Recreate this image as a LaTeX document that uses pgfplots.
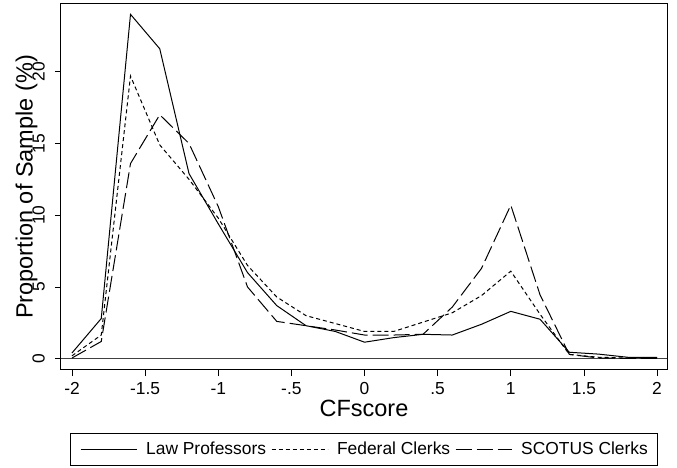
\documentclass[border=0pt]{standalone}
\usepackage{fontspec}
\setmainfont{Liberation Sans}
\usepackage{pgfplots}
\usepackage{pgfplotstable}
\pgfplotsset{compat=1.18}
\pgfplotstableread{
x     law    fed    scotus
-2.0  0.40   0.20   0.05
-1.8  2.80   1.65   1.20
-1.6  24.00  19.70  13.60
-1.4  21.60  14.90  17.00
-1.2  12.90  12.50  15.00
-1.0  9.40   9.80   10.60
-0.8  6.00   6.50   5.00
-0.6  3.70   4.30   2.60
-0.4  2.30   3.00   2.30
-0.2  1.90   2.45   2.00
0.0   1.15   1.90   1.65
0.2   1.47   1.90   1.65
0.4   1.70   2.55   1.70
0.6   1.65   3.20   3.60
0.8   2.40   4.40   6.30
1.0   3.30   6.10   10.70
1.2   2.75   3.10   4.45
1.4   0.45   0.30   0.30
1.6   0.32   0.10   0.05
1.8   0.10   0.05   0.02
2.0   0.10   0.05   0.02
}\datatable
\begin{document}
\begin{tikzpicture}
\path[use as bounding box] (-61pt,-98pt) rectangle (616pt,370pt);
\begin{axis}[
  at={(0pt,0pt)}, anchor=south west,
  scale only axis, width=606pt, height=366pt,
  xmin=-2.0752, xmax=2.068, ymin=-0.787, ymax=24.72,
  axis line style={line width=1pt},
  tick align=outside, major tick length=6pt,
  xtick pos=bottom, ytick pos=left,
  tick style={line width=0.8pt, black},
  xtick={-2,-1.5,-1,-0.5,0,0.5,1,1.5,2},
  xticklabels={-2,-1.5,-1,-.5,0,.5,1,1.5,2},
  ytick={0,5,10,15,20}, yticklabels={0,5,10,15,20},
  /pgf/number format/assume math mode=true,
  ticklabel style={font=\fontsize{17.4}{20}\selectfont, inner sep=0pt},
  xticklabel style={anchor=north}, xticklabel shift=6pt,
  yticklabel style={rotate=90, anchor=south}, yticklabel shift=10pt,
  xlabel={CFscore}, ylabel={Proportion of Sample (\%)},
  label style={font=\fontsize{23.5}{28}\selectfont, inner sep=0pt},
  xlabel style={at={(axis description cs:0.5,-0.082)}, anchor=north},
  ylabel style={at={(axis description cs:-0.0467,0.5)}, anchor=base},
  legend columns=3,
  legend image code/.code={\draw[#1] (0pt,0pt) -- (56pt,0pt);},
  legend style={at={(axis description cs:0.5,-0.1721)}, anchor=north,
    draw=black, line width=0.8pt, font=\fontsize{17.4}{20}\selectfont,
    inner xsep=10pt, inner ysep=9pt, nodes={inner sep=0pt},
    /tikz/every odd column/.append style={column sep=9pt},
    /tikz/every even column/.append style={column sep=5pt}},
]
\addplot[forget plot, line width=1pt, black!75] coordinates {(-2.0752,0) (2.068,0)};
\addplot[black, line width=1pt] table[x=x, y=law] {\datatable};
\addlegendentry{Law Professors}
\addplot[black, line width=1pt, dash pattern=on 4pt off 3pt] table[x=x, y=fed] {\datatable};
\addlegendentry{Federal Clerks}
\addplot[black, line width=1pt, dash pattern=on 16pt off 5pt] table[x=x, y=scotus] {\datatable};
\addlegendentry{SCOTUS Clerks}
\end{axis}
\end{tikzpicture}
\end{document}
